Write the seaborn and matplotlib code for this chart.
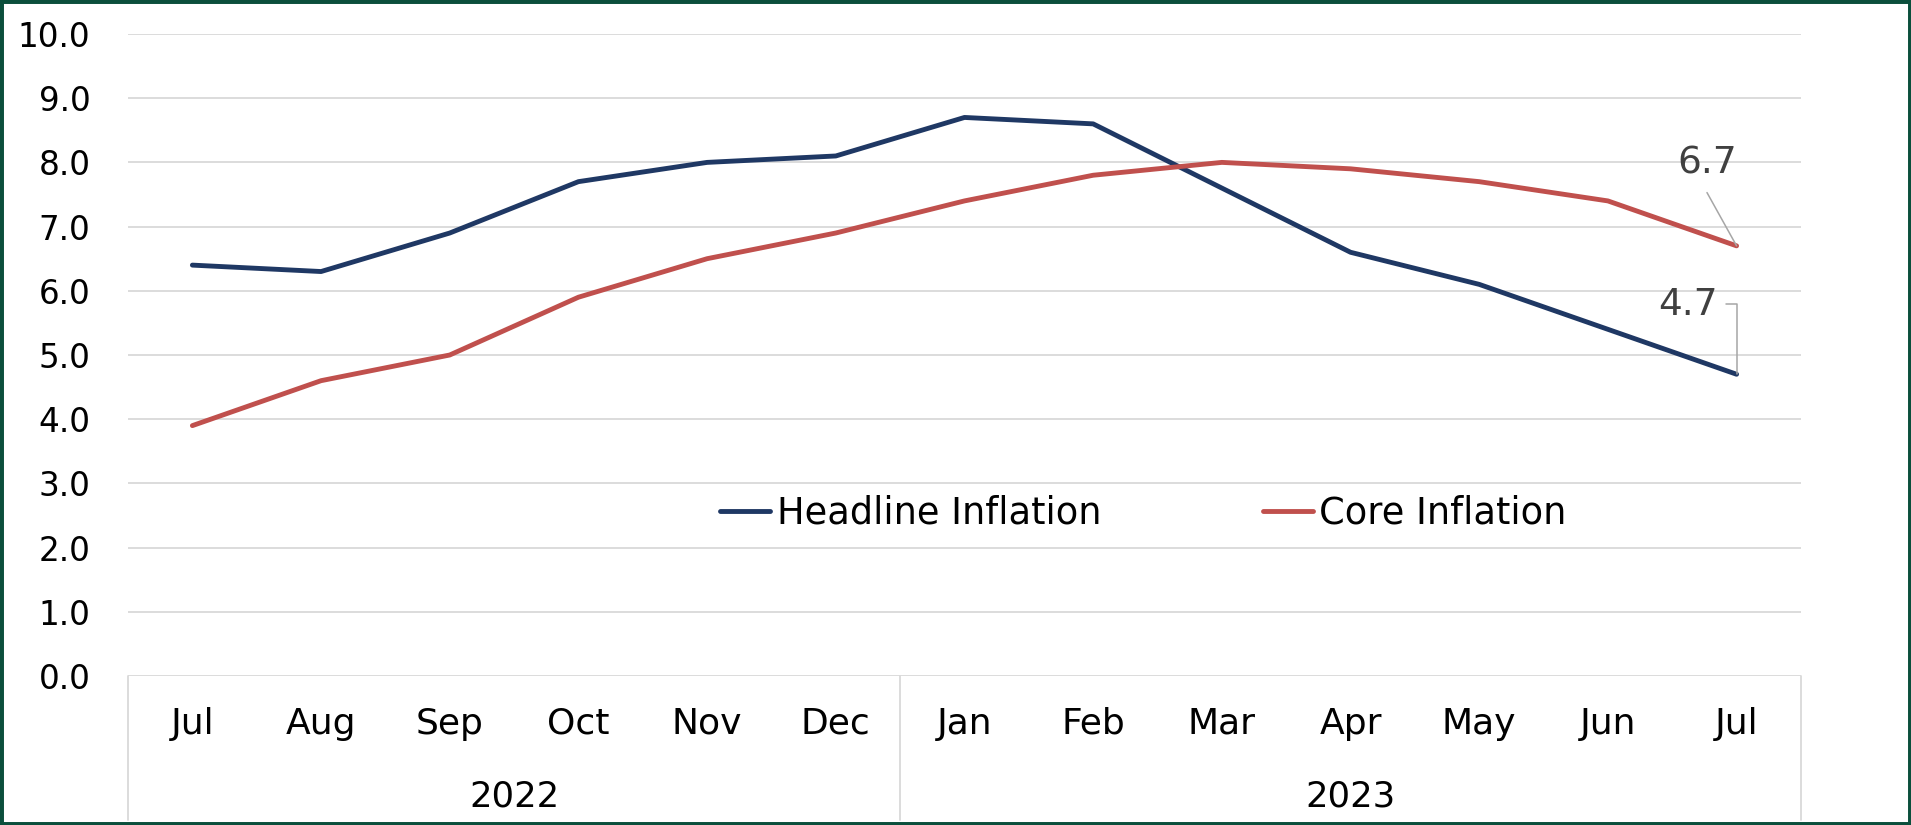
import numpy as np
import pandas as pd
import matplotlib
matplotlib.use("Agg")
import matplotlib.pyplot as plt
import matplotlib.transforms as mtransforms
from matplotlib.patches import Rectangle
import seaborn as sns

# ---- data -------------------------------------------------------------
months = ["Jul", "Aug", "Sep", "Oct", "Nov", "Dec",
          "Jan", "Feb", "Mar", "Apr", "May", "Jun", "Jul"]
years = ["2022", "2023"]
year_spans = [(0, 5), (6, 12)]
headline = [6.4, 6.3, 6.9, 7.7, 8.0, 8.1, 8.7, 8.6, 7.6, 6.6, 6.1, 5.4, 4.7]
core = [3.9, 4.6, 5.0, 5.9, 6.5, 6.9, 7.4, 7.8, 8.0, 7.9, 7.7, 7.4, 6.7]
series_names = ["Headline Inflation", "Core Inflation"]
yticks = [0, 1, 2, 3, 4, 5, 6, 7, 8, 9, 10]

NAVY = "#1F3864"
RED = "#C0504D"
GRID = "#D9D9D9"
FRAME = "#0B4F3C"

df = pd.DataFrame({
    "idx": list(range(len(months))) * 2,
    "value": headline + core,
    "series": [series_names[0]] * len(months) + [series_names[1]] * len(months),
})

sns.set_theme(style="white")
plt.rcParams["font.family"] = ["DejaVu Sans"]
plt.rcParams["text.color"] = "black"

fig = plt.figure(figsize=(19.11, 8.25), dpi=100)
ax = fig.add_axes([0.067, 0.1806, 0.8754, 0.7782])

sns.lineplot(data=df, x="idx", y="value", hue="series",
             palette={series_names[0]: NAVY, series_names[1]: RED},
             linewidth=3.5, ax=ax, solid_capstyle="round",
             solid_joinstyle="round")

ax.set_xlim(-0.5, len(months) - 0.5)
ax.set_ylim(0, 10)
ax.set_yticks(yticks, [f"{v:.1f}" for v in yticks])
ax.set_xticks(range(len(months)), months)
ax.tick_params(axis="y", length=0, pad=27, labelsize=23.5, labelcolor="black")
ax.tick_params(axis="x", length=0, pad=22, labelsize=26, labelcolor="black")
ax.set_xlabel("")
ax.set_ylabel("")

for y in yticks:
    ax.axhline(y, color=GRID, lw=1.3, zorder=0)
for s in ax.spines.values():
    s.set_visible(False)

# category group separators and year labels under the axis
trans = mtransforms.blended_transform_factory(ax.transData, ax.transAxes)
for xb in [-0.5, 5.5, 12.5]:
    ax.plot([xb, xb], [0, -0.225], transform=trans, color=GRID, lw=1.3,
            clip_on=False)
for yr, (a, b) in zip(years, year_spans):
    ax.text((a + b) / 2, -0.187, yr, transform=trans, ha="center",
            va="center", fontsize=25.5, color="black")

# end-point value labels with leader lines
ax.text(11.77, 7.99, f"{core[-1]:.1f}", ha="center", va="center",
        fontsize=27, color="#404040")
ax.plot([11.77, 12], [7.53, core[-1]], color="#A6A6A6", lw=1.1)
ax.text(11.62, 5.78, f"{headline[-1]:.1f}", ha="center", va="center",
        fontsize=27, color="#404040")
ax.plot([11.92, 12, 12], [5.80, 5.80, headline[-1]], color="#A6A6A6", lw=1.1)

handles, labels = ax.get_legend_handles_labels()
ax.legend(handles, labels, loc="center left", bbox_to_anchor=(0.343, 0.254),
          ncol=2, frameon=False, fontsize=26.5, borderpad=0,
          handlelength=1.35, handletextpad=0.18, columnspacing=4.4,
          labelcolor="black")

fig.add_artist(Rectangle((0, 0), 1, 1, transform=fig.transFigure, fill=False,
                         edgecolor=FRAME, lw=5, clip_on=False))

fig.savefig("out.png", dpi=100, facecolor="white")
